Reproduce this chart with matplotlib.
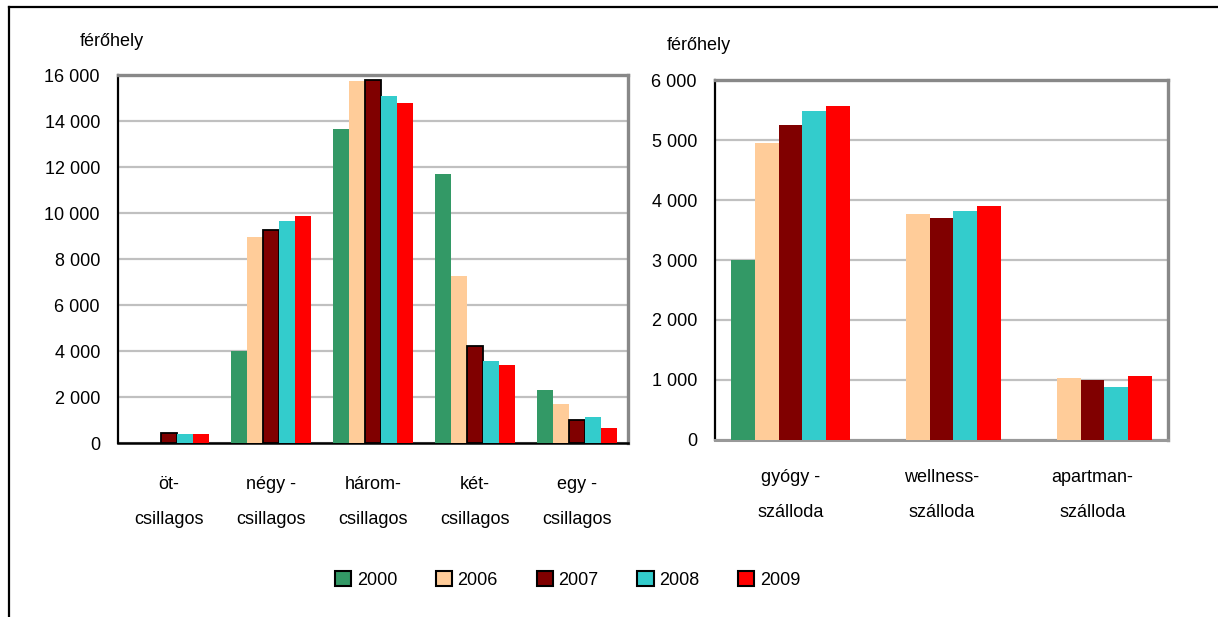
import numpy as np
import matplotlib
matplotlib.use("Agg")
import matplotlib.pyplot as plt
from matplotlib.patches import Patch
from matplotlib.lines import Line2D

plt.rcParams['font.family'] = ['Liberation Sans', 'DejaVu Sans']

# data
years = ['2000', '2006', '2007', '2008', '2009']
colors = ['#339966', '#FFCC99', '#800000', '#33CCCC', '#FF0000']

stars = ['öt-\ncsillagos', 'négy -\ncsillagos', 'három-\ncsillagos',
         'két-\ncsillagos', 'egy -\ncsillagos']
stars_vals = {
    '2000': [0, 4000, 13650, 11700, 2300],
    '2006': [0, 8950, 15750, 7250, 1700],
    '2007': [430, 9250, 15800, 4200, 1000],
    '2008': [400, 9650, 15100, 3550, 1150],
    '2009': [400, 9850, 14800, 3400, 650],
}

hotels = ['gyógy -\nszálloda', 'wellness-\nszálloda', 'apartman-\nszálloda']
hotel_vals = {
    '2000': [3000, 0, 0],
    '2006': [4950, 3760, 1040],
    '2007': [5250, 3700, 1000],
    '2008': [5480, 3810, 880],
    '2009': [5570, 3900, 1070],
}

left_ticks = np.arange(0, 16001, 2000)
right_ticks = np.arange(0, 6001, 1000)


def fmt(v):
    return f"{v:,}".replace(",", " ")


def style(ax, ticks, cats):
    ax.set_ylim(0, ticks[-1])
    ax.set_xlim(-0.5, len(cats) - 0.5)
    ax.set_yticks(ticks)
    ax.set_yticklabels([fmt(t) for t in ticks], fontsize=13)
    ax.set_xticks(range(len(cats)))
    ax.set_xticklabels(cats, fontsize=13, linespacing=2.35)
    ax.tick_params(axis='both', length=0)
    ax.tick_params(axis='y', pad=13)
    ax.tick_params(axis='x', pad=24)
    ax.yaxis.grid(True, color='#c0c0c0', linewidth=1.6)
    ax.set_axisbelow(True)
    ax.spines['left'].set_color('black')
    ax.spines['left'].set_linewidth(1.6)
    for s in ['top', 'right']:
        ax.spines[s].set_color('#888888')
        ax.spines[s].set_linewidth(2.4)


fig = plt.figure(figsize=(12.18, 6.17), dpi=100)

ax1 = fig.add_axes([0.0969, 0.282, 0.4187, 0.5964])
w = 0.157
x = np.arange(len(stars))
for i, y in enumerate(years):
    ec = 'black' if y == '2007' else 'none'
    lw = 1.3 if y == '2007' else 0
    ax1.bar(x + (i - 2) * w, stars_vals[y], width=w, color=colors[i],
            edgecolor=ec, linewidth=lw, zorder=3)
style(ax1, left_ticks, stars)
ax1.spines['bottom'].set_color('black')
ax1.spines['bottom'].set_linewidth(1.8)
ax1.text(-0.012, 1.09, 'férőhely', transform=ax1.transAxes, fontsize=13,
         ha='center', va='center')

ax2 = fig.add_axes([0.587, 0.2869, 0.372, 0.5834])
w2 = 0.157
x2 = np.arange(len(hotels))
for i, y in enumerate(years):
    ax2.bar(x2 + (i - 2) * w2, hotel_vals[y], width=w2, color=colors[i],
            edgecolor='none', zorder=3)
style(ax2, right_ticks, hotels)
ax2.tick_params(axis='x', pad=21)
ax2.spines['bottom'].set_color('#999999')
ax2.spines['bottom'].set_linewidth(2.2)
ax2.text(-0.035, 1.097, 'férőhely', transform=ax2.transAxes, fontsize=13,
         ha='center', va='center')

handles = [Patch(facecolor=c, edgecolor='black', linewidth=1.5) for c in colors]
fig.legend(handles, years, loc='center', bbox_to_anchor=(0.466, 0.06),
           ncol=5, frameon=False, fontsize=13, handlelength=0.9,
           handleheight=0.9, handletextpad=0.3, columnspacing=2.15)

# outer frame (partially visible)
fig.add_artist(Line2D([0.0074, 1.0], [0.9887, 0.9887], color='black',
                      linewidth=1.6, transform=fig.transFigure))
fig.add_artist(Line2D([0.0074, 0.0074], [0.0, 0.9887], color='black',
                      linewidth=1.6, transform=fig.transFigure))

fig.savefig('out.png', dpi=100)
